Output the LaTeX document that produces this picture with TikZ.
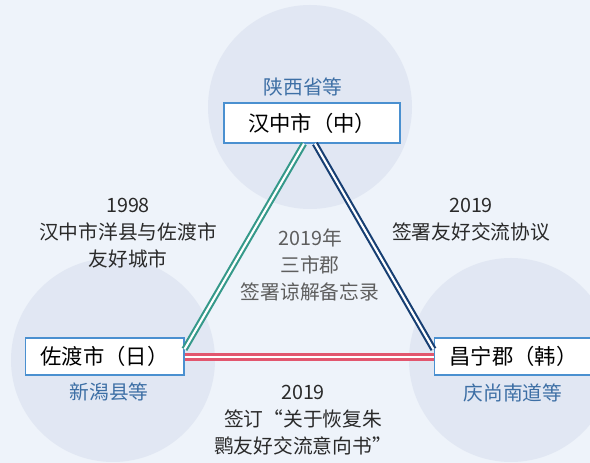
\documentclass[tikz,border=0pt]{standalone}
\usepackage{fontspec}
\setmainfont{Noto Sans CJK SC}
\definecolor{bg}{HTML}{EEF3FA}
\definecolor{circ}{HTML}{E1E7F3}
\definecolor{boxline}{HTML}{4A90D0}
\definecolor{subblue}{HTML}{3D6FA5}
\definecolor{lgreen}{HTML}{35998A}
\definecolor{lblue}{HTML}{173F73}
\definecolor{lred}{HTML}{E2566E}
\definecolor{txt}{HTML}{2A2A2A}
\definecolor{gtxt}{HTML}{5E5E5E}
\begin{document}
\begin{tikzpicture}[x=0.75pt,y=-0.75pt,
  city/.style={draw=boxline,line width=1pt,fill=white,inner sep=0pt,
    font=\fontsize{16}{18}\selectfont,text=black},
  sub/.style={font=\fontsize{14.8}{20}\selectfont,text=subblue},
  note/.style={font=\fontsize{14.8}{20.3}\selectfont,text=txt,align=center},
  cnote/.style={note,text=gtxt},
  link/.style={line width=1.6pt,double=white,double distance=1.6pt},
  rlink/.style={line width=2pt,double=white,double distance=2.1pt}]
\useasboundingbox (0,0) rectangle (590,463);
\fill[bg] (0,0) rectangle (590,463);
\begin{scope}
\clip (0,0) rectangle (590,463);
\fill[circ] (310,107) circle (102);
\fill[circ] (113,360) circle (102);
\fill[circ] (511,360) circle (102);

\node[city,minimum width=132pt,minimum height=30pt] (top) at (312,123) {汉中市（中）};
\node[city,minimum width=119pt,minimum height=27.75pt] (left) at (104.5,356.5) {佐渡市（日）};
\node[city,minimum width=119pt,minimum height=27.75pt] (right) at (513.5,356.5) {昌宁郡（韩）};

\draw[link,lgreen] ([xshift=-6pt]top.south) -- ([yshift=5.4pt]left.east);
\draw[link,lblue] ([xshift=2.2pt]top.south) -- ([yshift=5.4pt]right.west);
\draw[rlink,lred] ([yshift=-0.4pt]left.east) -- ([yshift=-0.4pt]right.west);

\node[sub] (tsub) at (303,87) {陕西省等};
\node[sub] (lsub) at (109,392) {新潟县等};
\node[sub] (rsub) at (513,393) {庆尚南道等};

\node[note] (ln) at (128,233) {1998\\汉中市洋县与佐渡市\\友好城市};
\node[note,anchor=north] (rn) at (471,193) {2019\\签署友好交流协议};
\node[cnote] (cn) at (310,265) {2019年\\三市郡\\签署谅解备忘录};
\node[note] (bn) at (303,420) {2019\\签订“关于恢复朱\\鹮友好交流意向书”};
\end{scope}
\end{tikzpicture}
\end{document}
